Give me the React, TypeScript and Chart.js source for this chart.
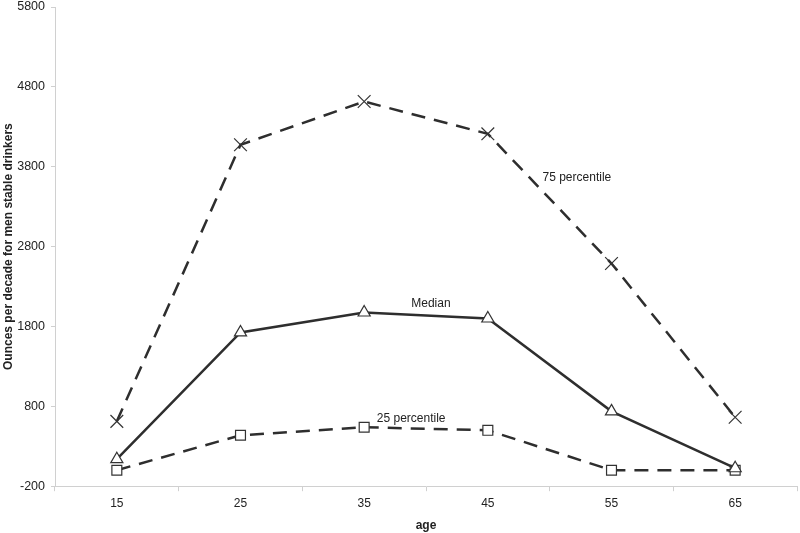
import React, { useEffect, useRef } from "react";
import { Chart, registerables } from "chart.js";

Chart.register(...registerables);

const ages = ["15", "25", "35", "45", "55", "65"];
const p75 = [612, 4075, 4616, 4212, 2588, 663];
const median = [138, 1725, 1975, 1900, 737, 25];
const p25 = [0, 438, 538, 500, 0, 0];
const yTicks = [-200, 800, 1800, 2800, 3800, 4800, 5800];

const seriesLabels = [
  { text: "75 percentile", x: 3.72, y: 3663 },
  { text: "Median", x: 2.54, y: 2088 },
  { text: "25 percentile", x: 2.38, y: 650 },
];

const FONT = "'Liberation Sans', Arial, sans-serif";

const labelPlugin = {
  id: "seriesLabels",
  afterDatasetsDraw(chart: any) {
    const { ctx, scales } = chart;
    ctx.save();
    ctx.font = "12px " + FONT;
    ctx.fillStyle = "#222";
    ctx.textAlign = "center";
    ctx.textBaseline = "middle";
    seriesLabels.forEach((l) => {
      const i = Math.floor(l.x);
      const x0 = scales.x.getPixelForValue(i);
      const x1 = scales.x.getPixelForValue(i + 1);
      const px = x0 + (x1 - x0) * (l.x - i);
      const py = scales.y.getPixelForValue(l.y);
      ctx.fillText(l.text, px, py);
    });
    ctx.restore();
  },
};

export default function App() {
  const ref = useRef<HTMLCanvasElement>(null);
  useEffect(() => {
    document.body.style.margin = "0";
    const color = "#2e2e2e";
    const common = {
      borderColor: color,
      borderWidth: 2.5,
      pointBorderWidth: 1.2,
      pointBorderColor: "#333",
      pointBackgroundColor: "#fff",
      tension: 0,
      clip: false as any,
    };
    const chart = new Chart(ref.current!, {
      type: "line",
      data: {
        labels: ages,
        datasets: [
          { ...common, label: "75 percentile", data: p75, borderDash: [14, 9], pointStyle: "crossRot", pointRadius: 9 },
          { ...common, label: "Median", data: median, pointStyle: "triangle", pointRadius: 7 },
          { ...common, label: "25 percentile", data: p25, borderDash: [14, 9], pointStyle: "rect", pointRadius: 7 },
        ],
      },
      options: {
        animation: false,
        responsive: false,
        layout: { padding: { top: 0, right: 3, left: 0, bottom: 0 }, autoPadding: false },
        plugins: { legend: { display: false }, tooltip: { enabled: false } },
        scales: {
          x: {
            offset: true,
            afterFit: (s: any) => {
              s.paddingLeft = 0;
              s.paddingRight = 0;
            },
            grid: { offset: true, drawOnChartArea: false, color: "#d0d0d0", tickLength: 5 },
            border: { color: "#d0d0d0" },
            ticks: { color: "#222", font: { family: FONT, size: 12 }, padding: 5 },
            title: {
              display: true,
              text: "age",
              color: "#222",
              font: { family: FONT, size: 12, weight: "bold" },
              padding: { top: 3, bottom: 0 },
            },
          },
          y: {
            min: -200,
            max: 5800,
            afterBuildTicks: (s: any) => {
              s.ticks = yTicks.map((v) => ({ value: v }));
            },
            afterFit: (s: any) => {
              s.width = 55;
              s.paddingTop = 7;
              s.paddingBottom = 0;
            },
            grid: { drawOnChartArea: false, color: "#d0d0d0", tickLength: 4 },
            border: { color: "#d0d0d0" },
            ticks: {
              color: "#222",
              font: { family: FONT, size: 12.5 },
              padding: 6,
              callback: (v: any) => String(v),
            },
            title: {
              display: true,
              text: "Ounces per decade for men stable drinkers",
              color: "#222",
              font: { family: FONT, size: 12, weight: "bold" },
              padding: { top: 1, bottom: 2 },
            },
          },
        },
      },
      plugins: [labelPlugin],
    });
    return () => chart.destroy();
  }, []);
  return (
    <div style={{ width: 800, height: 533 }}>
      <canvas ref={ref} width={800} height={533} />
    </div>
  );
}
